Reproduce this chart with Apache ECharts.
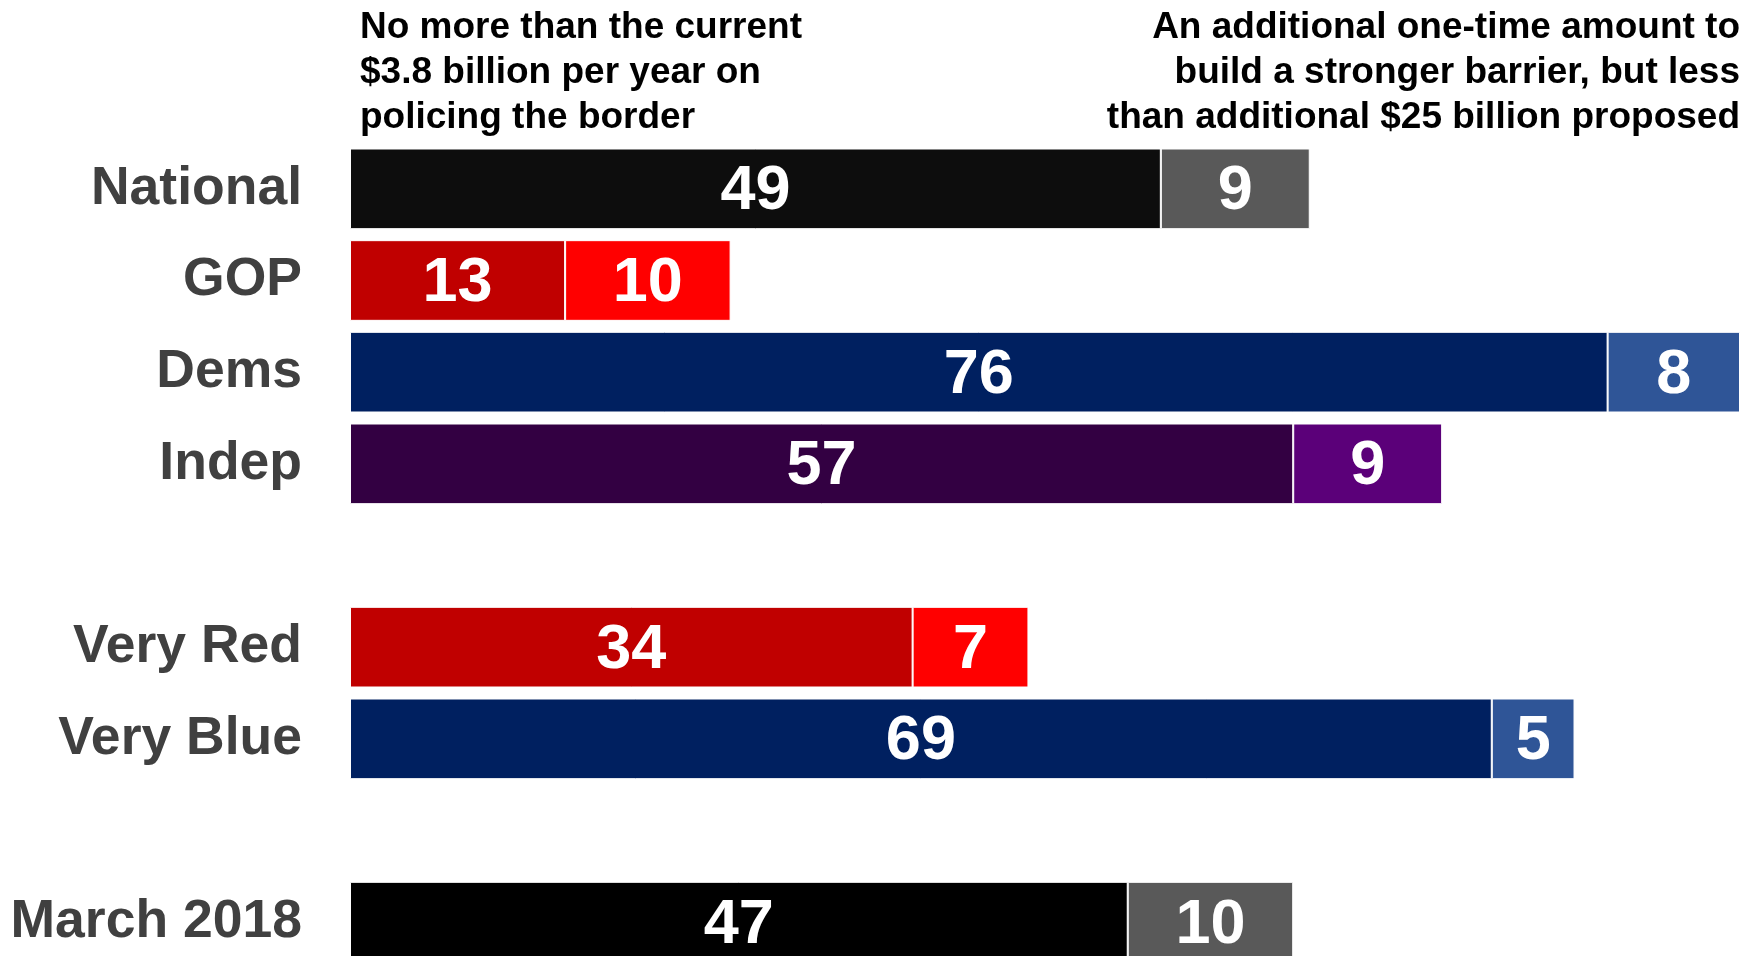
<!DOCTYPE html>
<html>
<head>
<meta charset="utf-8">
<script src="https://cdn.jsdelivr.net/npm/echarts@6/dist/echarts.min.js"></script>
<style>
html,body{margin:0;padding:0;background:#fff;overflow:hidden;}
#c{width:1754px;height:1000px;}
</style>
</head>
<body>
<div id="c"></div>
<script>
const categories = ['National', 'GOP', 'Dems', 'Indep', '', 'Very Red', 'Very Blue', '', 'March 2018'];
const noMoreValues = [49, 13, 76, 57, null, 34, 69, null, 47];
const additionalValues = [9, 10, 8, 9, null, 7, 5, null, 10];
const noMoreColors = ['#0d0d0d', '#c00000', '#002060', '#330042', null, '#c00000', '#002060', null, '#000000'];
const additionalColors = ['#595959', '#ff0000', '#2f5597', '#5b0079', null, '#ff0000', '#2f5597', null, '#595959'];
const headerLeft = 'No more than the current\n$3.8 billion per year on\npolicing the border';
const headerRight = 'An additional one-time amount to\nbuild a stronger barrier, but less\nthan additional $25 billion proposed';

const FONT = '"Liberation Sans", Arial, sans-serif';

function build(values, colors) {
  return values.map((v, i) => v == null ? '-' : { value: v, itemStyle: { color: colors[i] } });
}

const labelStyle = {
  show: true,
  position: 'inside',
  offset: [0, 3],
  color: '#ffffff',
  fontFamily: FONT,
  fontWeight: 'bold',
  fontSize: 63
};

const chart = echarts.init(document.getElementById('c'), null, { renderer: 'canvas' });
chart.setOption({
  animation: false,
  backgroundColor: '#ffffff',
  grid: { left: 350, top: 143, width: 1390, height: 825, containLabel: false },
  xAxis: {
    type: 'value', min: 0, max: 84,
    show: false
  },
  yAxis: {
    type: 'category',
    data: categories,
    inverse: true,
    axisLine: { show: false },
    axisTick: { show: false },
    splitLine: { show: false },
    axisLabel: {
      margin: 48,
      color: '#404040',
      fontFamily: FONT,
      fontWeight: 'bold',
      fontSize: 53.5
    }
  },
  series: [
    {
      type: 'bar', stack: 'total', barCategoryGap: '12%',
      data: build(noMoreValues, noMoreColors),
      itemStyle: { borderColor: '#ffffff', borderWidth: 1 },
      label: labelStyle
    },
    {
      type: 'bar', stack: 'total', barCategoryGap: '12%',
      data: build(additionalValues, additionalColors),
      itemStyle: { borderColor: '#ffffff', borderWidth: 1 },
      label: labelStyle
    }
  ],
  graphic: [
    {
      type: 'text', left: 360, top: 5,
      style: {
        text: headerLeft, fill: '#000000', font: 'bold 37px ' + FONT,
        lineHeight: 45, textAlign: 'left'
      }
    },
    {
      type: 'text', right: 14, top: 5,
      style: {
        text: headerRight, fill: '#000000', font: 'bold 37px ' + FONT,
        lineHeight: 45, textAlign: 'right'
      }
    }
  ]
});
</script>
</body>
</html>
